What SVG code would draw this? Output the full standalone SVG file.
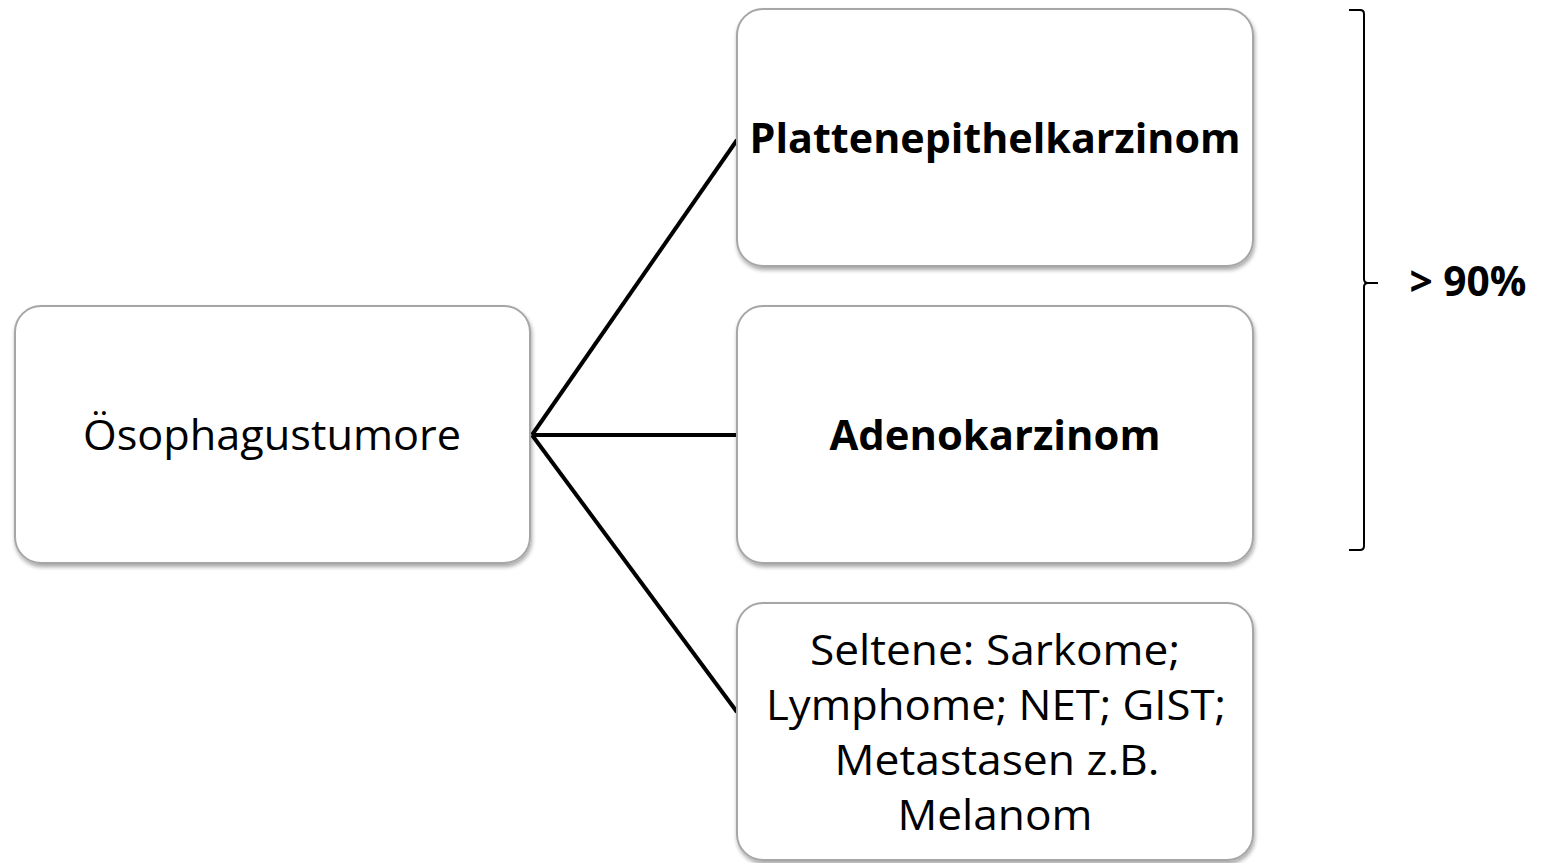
<svg xmlns="http://www.w3.org/2000/svg" width="1543" height="863" viewBox="0 0 1543 863">
<defs>
<filter id="sh" x="-5%" y="-5%" width="110%" height="115%">
<feGaussianBlur in="SourceAlpha" stdDeviation="2"/>
<feOffset dx="1" dy="3" result="b"/>
<feComponentTransfer><feFuncA type="linear" slope="0.35"/></feComponentTransfer>
<feMerge><feMergeNode/><feMergeNode in="SourceGraphic"/></feMerge>
</filter>
</defs>
<style>
.box{fill:#fff;stroke:#a6a6a6;stroke-width:2}
.t{font-family:"Open Sans","Liberation Sans",sans-serif;font-size:42px;fill:#000;text-anchor:middle}
.b{font-weight:bold}
.c{stroke:#000;stroke-width:4;fill:none}
.br{stroke:#000;stroke-width:2;fill:none}
</style>
<rect width="1543" height="863" fill="#fff"/>
<g id="connectors">
<line class="c" x1="532" y1="435" x2="737" y2="140"/>
<line class="c" x1="532" y1="435" x2="737" y2="435"/>
<line class="c" x1="532" y1="435" x2="737" y2="712"/>
</g>
<g id="n-root">
<rect class="box" filter="url(#sh)" x="15" y="306" width="515" height="257" rx="26"/>
<text class="t" x="272" y="450" textLength="378" lengthAdjust="spacingAndGlyphs">Ösophagustumore</text>
</g>
<g id="n-platten">
<rect class="box" filter="url(#sh)" x="737" y="9" width="516" height="257" rx="26"/>
<text class="t b" x="995" y="153" textLength="491" lengthAdjust="spacingAndGlyphs">Plattenepithelkarzinom</text>
</g>
<g id="n-adeno">
<rect class="box" filter="url(#sh)" x="737" y="306" width="516" height="257" rx="26"/>
<text class="t b" x="995" y="450" textLength="331" lengthAdjust="spacingAndGlyphs">Adenokarzinom</text>
</g>
<g id="n-selten">
<rect class="box" filter="url(#sh)" x="737" y="603" width="516" height="257" rx="26"/>
<text class="t" x="995" y="665" textLength="370" lengthAdjust="spacingAndGlyphs">Seltene: Sarkome;</text>
<text class="t" x="996" y="720" textLength="460" lengthAdjust="spacingAndGlyphs">Lymphome; NET; GIST;</text>
<text class="t" x="997" y="775" textLength="325" lengthAdjust="spacingAndGlyphs">Metastasen z.B.</text>
<text class="t" x="995" y="830" textLength="195" lengthAdjust="spacingAndGlyphs">Melanom</text>
</g>
<g id="bracket">
<path class="br" d="M1349,10 L1360,10 Q1364,10 1364,14 L1364,279 Q1364,283 1368,283 L1378,283 M1368,283 Q1364,283 1364,287 L1364,546 Q1364,550 1360,550 L1349,550"/>
<text class="t b" x="1468" y="296" textLength="117" lengthAdjust="spacingAndGlyphs">&gt; 90%</text>
</g>
</svg>
